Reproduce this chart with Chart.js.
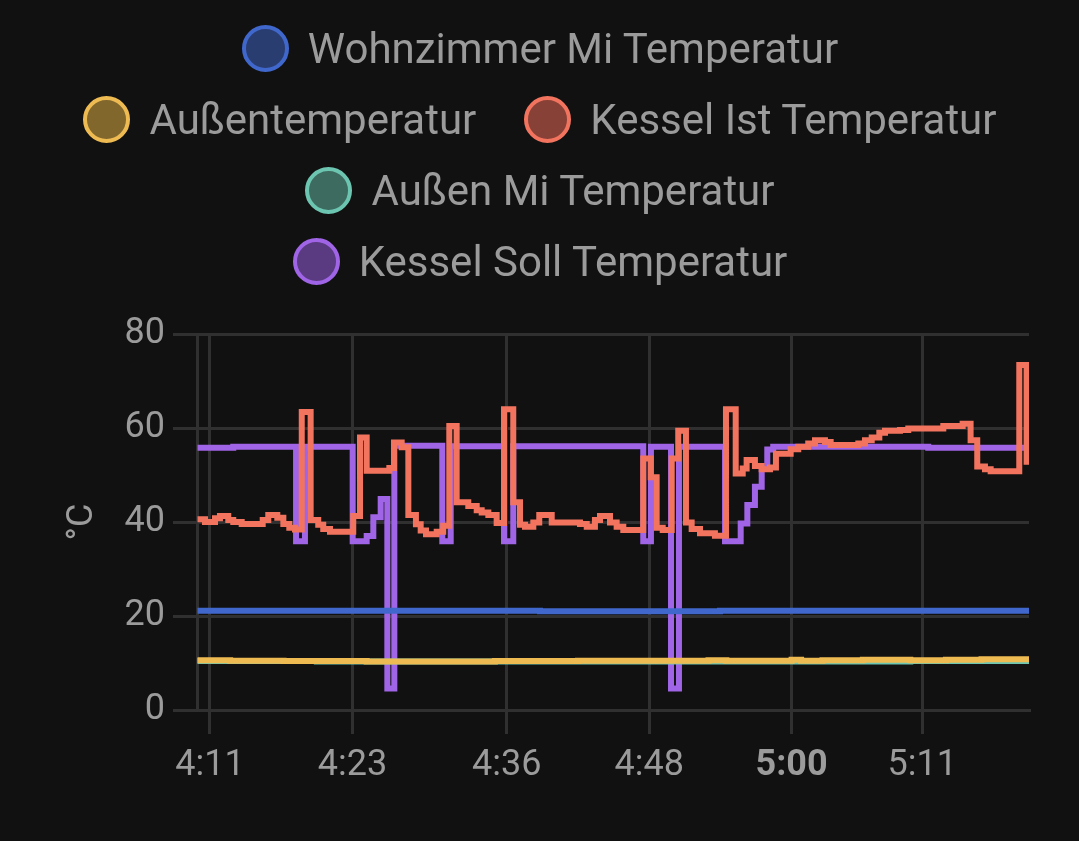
<!DOCTYPE html>
<html lang="de">
<head>
<meta charset="utf-8">
<title>Temperaturen</title>
<script src="https://cdn.jsdelivr.net/npm/chart.js@4"></script>
<style>
  html, body { margin: 0; width: 1079px; height: 841px; background: #111111; overflow: hidden; }
  #leyenda {
    position: absolute; left: 65px; top: 13px; width: 950px;
    display: flex; flex-wrap: wrap; justify-content: center; column-gap: 48px;
    font: 42px Roboto, sans-serif; color: #9b9b9b;
  }
  .item { display: flex; align-items: center; height: 71px; white-space: nowrap; }
  .punto { width: 39px; height: 39px; border-radius: 50%; border: 4px solid; margin-right: 19px; }
  #contenedor { position: absolute; left: 0; top: 0; width: 1079px; height: 841px; }
</style>
</head>
<body>
<div id="contenedor"><canvas id="grafica" width="1079" height="841"></canvas></div>
<div id="leyenda"></div>
<script>
// tiempo = minutos despues de las 4:00
const nombres = ['Wohnzimmer Mi Temperatur', 'Außentemperatur', 'Kessel Ist Temperatur', 'Außen Mi Temperatur', 'Kessel Soll Temperatur'];
const colores = ['#4068cc', '#eebb52', '#f2745f', '#6cc5b0', '#a064e6'];
const rellenos = ['rgba(66,105,208,0.5)', 'rgba(244,189,74,0.5)', 'rgba(255,114,92,0.5)', 'rgba(108,197,176,0.5)', 'rgba(164,99,242,0.5)'];

const xTicks = [11, 23, 36, 48, 60, 71];
const xMin = 9.905;
const xMax = 80;

const wohnzimmerZeit = [9.95, 38.8, 53.97, 80];
const wohnzimmerWerte = [21.1, 21.0, 21.1, 21.1];

const aussenZeit = [9.95, 12.7, 17.2, 24.2, 35, 42, 53, 54.5, 60, 60.8, 62.6, 66, 70, 73, 76, 80];
const aussenWerte = [10.6, 10.5, 10.4, 10.3, 10.4, 10.5, 10.6, 10.5, 10.7, 10.5, 10.6, 10.7, 10.6, 10.7, 10.8, 10.9];

const aussenMiZeit = [9.95, 20, 35, 45, 53, 70, 80];
const aussenMiWerte = [10.4, 10.3, 10.3, 10.3, 10.3, 10.4, 10.5];

const kesselIstZeit = [
  9.95, 10.58, 11.42, 11.84, 12.54, 12.96, 13.67, 15.44, 15.91, 16.67,
  17.18, 17.68, 18.16, 18.73, 19.48, 20.12, 20.54, 21.11, 23.07, 23.64,
  24.2, 26.11, 26.5, 27.15, 27.71, 28.35, 28.75, 29.2, 30.1, 30.65,
  31.16, 31.78, 32.76, 33.47, 33.89, 34.45, 35.15, 35.77, 36.55, 37.12,
  37.54, 38.24, 38.74, 39.79, 42.17, 42.74, 43.43, 43.86, 44.7, 45.26,
  45.82, 47.5, 48.13, 48.63, 49.14, 49.9, 50.45, 51.1, 51.58, 52.28,
  53.54, 54.47, 55.29, 55.88, 56.21, 56.91, 57.48, 58.18, 58.68, 59.92,
  60.56, 61.4, 61.97, 62.81, 63.29, 65.62, 66.18, 66.75, 67.39, 67.87,
  69.13, 69.83, 72.78, 74.41, 75.08, 75.64, 76.29, 76.77, 79.18, 79.8, 80
];
const kesselIstWerte = [
  40.6, 40, 40.8, 41.3, 40.4, 40, 39.6, 40.4, 41.5, 40.9,
  39.6, 38.8, 38.4, 63.4, 40.4, 39.4, 38.5, 37.9, 41.3, 58,
  50.9, 51.5, 56.9, 55.9, 41.5, 39.5, 38.2, 37.4, 37.9, 39.2,
  60.4, 44.2, 43.4, 42.5, 42, 41.5, 39.8, 64, 44.2, 39.4,
  39, 39.9, 41.5, 39.9, 39.6, 39, 40.4, 41.3, 39.9, 39,
  38.3, 53.5, 49.5, 38.8, 38.3, 53.5, 59.4, 39.9, 38.5, 37.6,
  37.1, 64, 50.3, 51.4, 53.2, 51.9, 51.2, 51.6, 54.5, 55.5,
  56, 56.7, 57.4, 57, 56.4, 56.7, 57.4, 58, 59, 59.4,
  59.6, 59.9, 60.4, 60.9, 57.4, 51.8, 51.2, 50.8, 73.4, 52.8, 52.8
];

const kesselSollZeit = [
  9.95, 12.96, 18.25, 19.0, 23.02, 24.2, 24.76, 25.38, 25.94, 26.53,
  30.57, 31.28, 35.77, 36.55, 47.5, 48.15, 49.84, 50.51, 54.39, 55.71,
  56.27, 56.91, 57.48, 57.95, 58.45, 71.51, 80
];
const kesselSollWerte = [
  55.8, 56, 35.9, 56, 35.9, 37, 41, 44.9, 4.6, 56.2,
  35.9, 56.1, 35.9, 56.1, 35.9, 56, 4.6, 56, 35.9, 39.7,
  43.6, 47.5, 51.4, 55.4, 56, 55.8, 55.8
];

const zeiten = [wohnzimmerZeit, aussenZeit, kesselIstZeit, aussenMiZeit, kesselSollZeit];
const werte = [wohnzimmerWerte, aussenWerte, kesselIstWerte, aussenMiWerte, kesselSollWerte];

const fuente = 'Roboto, sans-serif';
const colorTexto = '#9b9b9b';
const colorGrid = '#303030';

const datasets = nombres.map((nombre, i) => ({
  label: nombre,
  data: zeiten[i].map((t, j) => ({ x: t, y: werte[i][j] })),
  borderColor: colores[i],
  backgroundColor: rellenos[i],
  borderWidth: 6,
  stepped: true,
  pointRadius: 0,
  fill: false
}));

function formatoHora(v) {
  const h = 4 + Math.floor(v / 60);
  const m = v % 60;
  return h + ':' + String(m).padStart(2, '0');
}

new Chart(document.getElementById('grafica'), {
  type: 'line',
  data: { datasets: datasets },
  options: {
    responsive: false,
    animation: false,
    devicePixelRatio: 1,
    layout: { padding: { top: 334, right: 50, left: 0, bottom: 0 } },
    plugins: { legend: { display: false }, tooltip: { enabled: false } },
    scales: {
      x: {
        type: 'linear',
        min: xMin,
        max: xMax,
        afterBuildTicks: axis => { axis.ticks = xTicks.map(v => ({ value: v })); },
        afterFit: axis => { axis.height = 131; },
        grid: { color: colorGrid, lineWidth: 3, tickLength: 24 },
        border: { color: colorGrid, width: 3 },
        ticks: {
          color: colorTexto,
          maxRotation: 0,
          autoSkip: false,
          padding: 10,
          font: ctx => ({ family: fuente, size: 36, weight: ctx.tick && ctx.tick.value === 60 ? 'bold' : 'normal' }),
          callback: v => formatoHora(v)
        }
      },
      y: {
        min: 0,
        max: 80,
        afterFit: axis => { axis.width = 197; },
        title: { display: true, text: '°C', color: colorTexto, font: { family: fuente, size: 36 }, padding: { top: 61, bottom: 0 } },
        grid: { color: colorGrid, lineWidth: 3, tickLength: 24 },
        border: { color: colorGrid, width: 3 },
        ticks: { color: colorTexto, stepSize: 20, padding: 8, font: { family: fuente, size: 36 } }
      }
    }
  }
});

const leyenda = document.getElementById('leyenda');
nombres.forEach((nombre, i) => {
  const item = document.createElement('div');
  item.className = 'item';
  const punto = document.createElement('span');
  punto.className = 'punto';
  punto.style.borderColor = colores[i];
  punto.style.background = rellenos[i];
  item.appendChild(punto);
  item.appendChild(document.createTextNode(nombre));
  leyenda.appendChild(item);
});
</script>
</body>
</html>
